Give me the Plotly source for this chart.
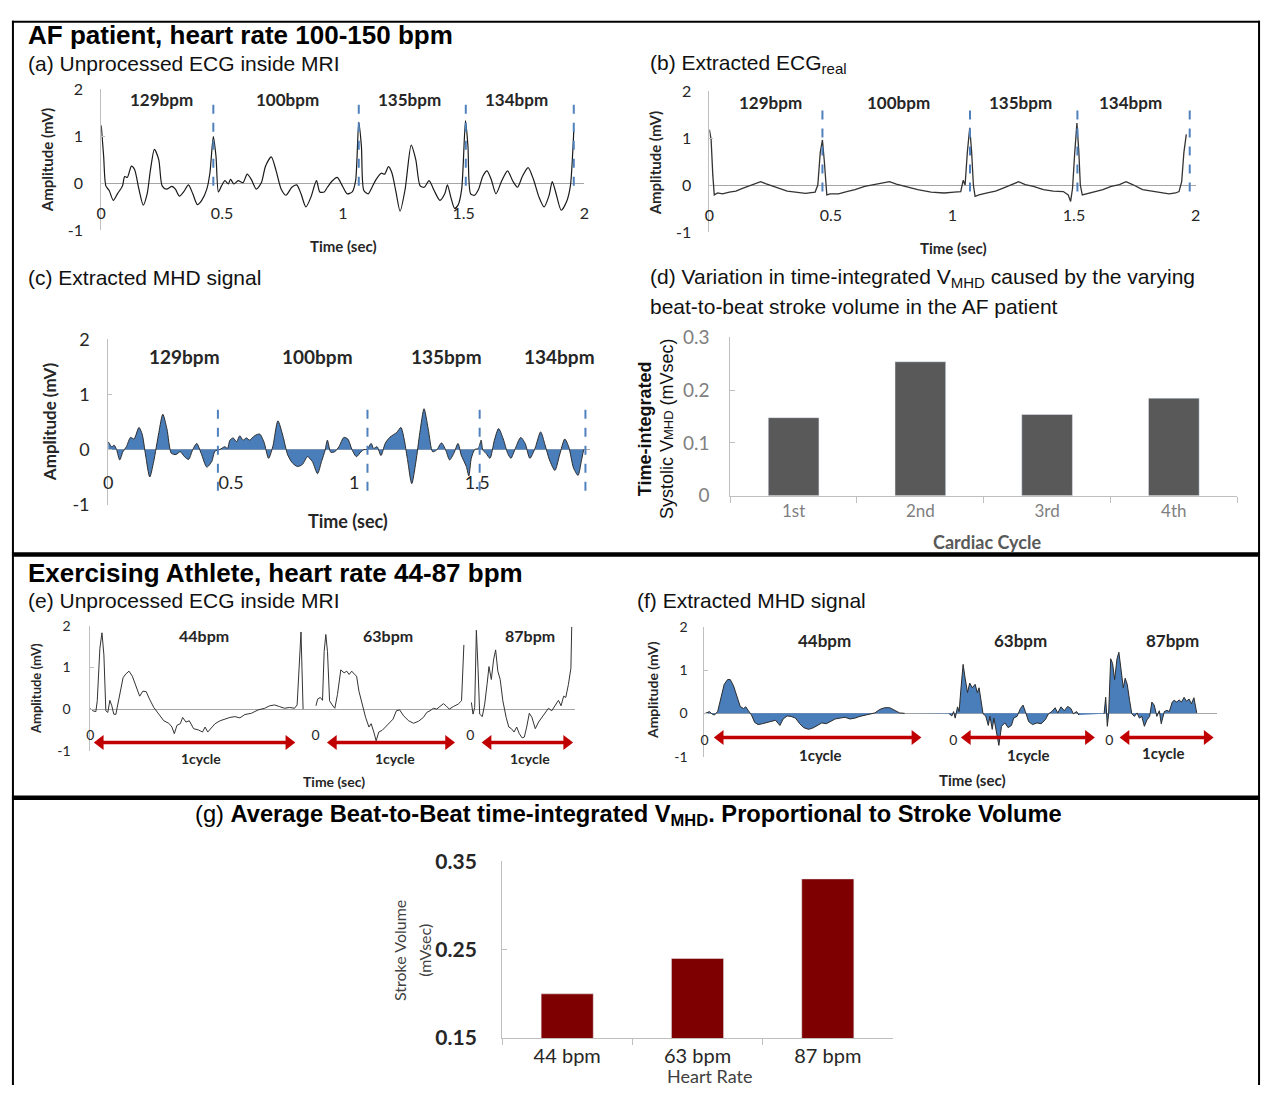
import plotly.graph_objects as go

# ---------------- DATA ----------------
# (a) unprocessed ECG inside MRI, AF patient: (time s, amplitude mV)
ecg_a = [(0,1.23),(0.01,0.57),(0.019,-0.06),(0.033,-0.16),(0.05,-0.37),(0.067,-0.23),(0.088,-0.06),(0.097,0.14),
         (0.108,0.12),(0.125,0.36),(0.138,0.29),(0.156,-0.13),(0.174,-0.47),(0.19,-0.23),(0.204,0.29),(0.22,0.72),
         (0.238,0.5),(0.252,-0.06),(0.27,-0.13),(0.293,-0.07),(0.307,-0.13),(0.324,-0.28),(0.341,-0.19),(0.361,-0.04),
         (0.379,-0.23),(0.398,-0.46),(0.416,-0.37),(0.437,-0.13),(0.45,0.22),(0.464,0.99),(0.475,0.57),(0.485,-0.19),
         (0.498,-0.06),(0.512,0.05),(0.526,-0.02),(0.535,0.08),(0.549,-0.02),(0.567,0.05),(0.587,0.01),(0.604,0.19),
         (0.621,0.08),(0.642,-0.13),(0.663,0.01),(0.68,0.36),(0.704,0.56),(0.724,0.26),(0.745,-0.13),(0.765,-0.26),
         (0.789,-0.09),(0.809,-0.04),(0.827,-0.23),(0.847,-0.51),(0.868,-0.3),(0.891,0.05),(0.905,-0.19),(0.923,-0.19),
         (0.936,-0.09),(0.957,0.05),(0.977,0.12),(0.998,-0.06),(1.018,-0.23),(1.039,-0.19),(1.053,0.05),(1.066,1.3),
         (1.077,0.78),(1.087,-0.16),(1.105,-0.23),(1.121,-0.09),(1.138,0.08),(1.159,0.21),(1.173,0.19),(1.189,0.35),
         (1.203,0.22),(1.22,-0.19),(1.237,-0.6),(1.258,-0.13),(1.283,0.81),(1.302,0.5),(1.32,-0.06),(1.337,-0.09),
         (1.357,0.05),(1.378,-0.16),(1.402,-0.37),(1.422,-0.23),(1.433,-0.04),(1.447,-0.3),(1.463,-0.54),(1.477,-0.47),
         (1.492,-0.13),(1.508,1.33),(1.518,0.78),(1.529,-0.23),(1.545,-0.26),(1.562,-0.13),(1.58,0.15),(1.597,0.26),
         (1.614,0.08),(1.634,-0.23),(1.658,0.05),(1.682,0.26),(1.703,0.05),(1.723,-0.09),(1.744,0.15),(1.767,0.33),
         (1.789,0.08),(1.812,-0.3),(1.833,-0.51),(1.854,-0.26),(1.867,0.03),(1.881,-0.19),(1.904,-0.58),(1.926,-0.4),
         (1.942,-0.06),(1.953,0.78),(1.956,1.12)]

# (b) extracted ECG_real
ecg_b = [(0,1.18),(0.007,0.97),(0.014,0.21),(0.02,-0.21),(0.034,-0.17),(0.054,-0.19),(0.082,-0.15),(0.109,-0.13),
         (0.136,-0.07),(0.163,-0.02),(0.19,0.02),(0.211,0.07),(0.231,0.03),(0.259,-0.02),(0.286,-0.07),(0.32,-0.13),
         (0.354,-0.15),(0.395,-0.18),(0.435,-0.15),(0.446,0),(0.456,0.69),(0.465,0.96),(0.473,0.49),(0.479,0),
         (0.483,-0.21),(0.497,-0.19),(0.531,-0.19),(0.565,-0.14),(0.599,-0.1),(0.639,-0.03),(0.68,0.01),(0.721,0.06),
         (0.741,0.07),(0.769,0.02),(0.803,-0.03),(0.857,-0.1),(0.912,-0.15),(0.966,-0.17),(1.007,-0.15),(1.034,-0.14),
         (1.044,0.1),(1.052,0),(1.061,0.69),(1.071,1.22),(1.079,0.69),(1.086,0),(1.093,-0.24),(1.109,-0.21),
         (1.143,-0.17),(1.177,-0.13),(1.211,-0.06),(1.245,0.01),(1.272,0.07),(1.299,0.01),(1.333,-0.03),(1.374,-0.1),
         (1.415,-0.13),(1.456,-0.14),(1.476,-0.21),(1.486,-0.35),(1.494,-0.07),(1.503,0.69),(1.512,1.32),(1.52,0.69),
         (1.526,0),(1.534,-0.21),(1.551,-0.19),(1.585,-0.15),(1.619,-0.1),(1.653,-0.03),(1.687,0.01),(1.714,0.07),
         (1.741,0.01),(1.782,-0.1),(1.837,-0.15),(1.891,-0.19),(1.918,-0.17),(1.932,-0.14),(1.943,0.07),(1.952,0.69),
         (1.962,1.08)]

# (c) extracted MHD signal
mhd_c = [(0,0.14),(0.015,0.05),(0.024,0.08),(0.034,0),(0.047,-0.19),(0.06,-0.04),(0.074,0.05),(0.091,0.22),
         (0.105,0.19),(0.125,0.4),(0.138,0.28),(0.152,-0.1),(0.169,-0.5),(0.185,-0.22),(0.206,0.31),(0.222,0.64),
         (0.239,0.37),(0.257,-0.07),(0.276,-0.09),(0.293,-0.04),(0.31,-0.13),(0.327,-0.18),(0.343,-0.01),(0.36,0.11),
         (0.378,-0.07),(0.401,-0.32),(0.421,-0.22),(0.434,-0.03),(0.454,0),(0.474,0.05),(0.485,0.02),(0.495,0.17),
         (0.508,0.21),(0.522,0.14),(0.535,0.25),(0.548,0.17),(0.562,0.21),(0.575,0.17),(0.595,0.25),(0.616,0.28),
         (0.633,0.14),(0.652,-0.16),(0.669,0.05),(0.69,0.52),(0.71,0.25),(0.73,-0.1),(0.75,-0.25),(0.77,-0.31),
         (0.79,-0.27),(0.81,-0.13),(0.83,-0.22),(0.851,-0.44),(0.867,-0.22),(0.882,-0.01),(0.891,0.17),(0.905,-0.05),
         (0.921,-0.04),(0.938,0.05),(0.958,0.22),(0.974,0.19),(0.992,-0.01),(1.009,-0.13),(1.028,-0.04),(1.04,0),
         (1.052,0),(1.069,0.11),(1.079,0.02),(1.093,0.05),(1.109,-0.11),(1.126,0.11),(1.144,0.22),(1.16,0.27),
         (1.173,0.31),(1.19,0.4),(1.203,0.19),(1.216,-0.16),(1.234,-0.62),(1.251,-0.22),(1.267,0.31),(1.284,0.74),
         (1.301,0.37),(1.319,-0.04),(1.335,-0.01),(1.355,0.12),(1.372,-0.01),(1.388,-0.19),(1.405,-0.07),(1.422,0.11),
         (1.435,-0.1),(1.456,-0.31),(1.466,-0.48),(1.476,-0.16),(1.49,0),(1.505,0.02),(1.516,0.17),(1.523,-0.01),
         (1.536,-0.07),(1.552,-0.16),(1.57,0.17),(1.587,0.38),(1.606,0.19),(1.624,-0.07),(1.637,-0.16),(1.655,0.02),
         (1.677,0.22),(1.695,0.11),(1.714,-0.16),(1.735,0.02),(1.758,0.32),(1.776,0.08),(1.794,-0.19),(1.816,-0.38),
         (1.835,-0.1),(1.856,0.19),(1.872,0.05),(1.892,-0.34),(1.91,-0.47),(1.923,-0.22),(1.933,0)]

# beat boundaries (dashed markers), seconds
beats_a = [0.464, 1.066, 1.509, 1.956]
beats_b = [0.465, 1.072, 1.514, 1.976]
beats_c = [0.446, 1.054, 1.51, 1.94]
bpm_af = ["129bpm", "100bpm", "135bpm", "134bpm"]
amp_ticks = [-1, 0, 1, 2]
amp_labels = ["-1", "0", "1", "2"]

# (d) time-integrated systolic V_MHD per cardiac cycle
cycles_d = ["1st", "2nd", "3rd", "4th"]
vmhd_d = [0.148, 0.254, 0.154, 0.185]

# (e) unprocessed ECG of exercising athlete (three concatenated beats)
ecg_e = [(0,0.02),(0.017,-0.04),(0.04,-0.06),(0.05,0.2),(0.069,1.46),(0.084,1.83),(0.098,1.3),(0.112,-0.04),
         (0.126,-0.08),(0.141,0.21),(0.155,0.08),(0.169,-0.12),(0.184,-0.13),(0.203,0.2),(0.22,0.43),(0.236,0.75),
         (0.255,0.84),(0.279,0.91),(0.303,0.79),(0.332,0.55),(0.356,0.31),(0.379,0.43),(0.403,0.42),(0.427,0.24),
         (0.458,0.04),(0.494,-0.12),(0.53,-0.28),(0.566,-0.34),(0.589,-0.43),(0.606,-0.59),(0.625,-0.39),(0.649,-0.35),
         (0.666,-0.2),(0.69,-0.31),(0.714,-0.28),(0.745,-0.47),(0.78,-0.5),(0.809,-0.55),(0.828,-0.43),(0.847,-0.55),
         (0.871,-0.47),(0.9,-0.35),(0.936,-0.28),(0.971,-0.24),(1.007,-0.2),(1.043,-0.18),(1.079,-0.21),(1.115,-0.13),
         (1.162,-0.1),(1.21,-0.02),(1.258,0.02),(1.294,0.08),(1.33,0.1),(1.365,0.06),(1.401,0.02),(1.437,0.04),
         (1.473,0.02),(1.492,0.1),(1.508,0.98),(1.52,1.85),(1.527,0.98),(1.535,0),
         (None,None),
         (1.628,0.08),(1.64,0.24),(1.659,0.28),(1.675,0.21),(1.687,1.38),(1.699,1.79),(1.711,1.38),(1.726,0.2),
         (1.745,0.1),(1.764,0.02),(1.783,0.35),(1.807,0.94),(1.831,0.87),(1.85,0.91),(1.867,0.83),(1.886,0.91),
         (1.907,0.83),(1.921,0.79),(1.938,0.43),(1.962,0.12),(1.986,-0.2),(2.01,-0.43),(2.026,-0.35),(2.045,-0.55),
         (2.062,-0.76),(2.081,-0.55),(2.105,-0.51),(2.129,-0.43),(2.153,-0.35),(2.184,-0.24),(2.208,-0.04),(2.232,-0.02),
         (2.26,-0.16),(2.296,-0.28),(2.332,-0.34),(2.368,-0.29),(2.403,-0.2),(2.427,-0.08),(2.451,-0.04),(2.475,0.02),
         (2.499,0),(2.523,0.06),(2.547,0.13),(2.566,0.08),(2.59,0),(2.618,0.06),(2.654,0.12),(2.678,0.2),(2.695,1.54),
         (None,None),
         (2.749,0.16),(2.761,-0.12),(2.773,0.04),(2.785,1.89),(2.797,0.98),(2.809,-0.12),(2.828,-0.18),(2.845,0.12),
         (2.862,0.59),(2.876,1.02),(2.893,0.71),(2.909,1.18),(2.924,1.42),(2.94,0.91),(2.957,0.71),(2.976,0.2),
         (3.0,-0.2),(3.019,-0.43),(3.038,-0.47),(3.057,-0.55),(3.076,-0.43),(3.095,-0.59),(3.115,-0.69),(3.131,-0.67),
         (3.148,-0.43),(3.167,-0.1),(3.186,-0.2),(3.21,-0.47),(3.234,-0.31),(3.258,-0.2),(3.282,-0.1),(3.305,0.02),
         (3.329,-0.04),(3.353,0.1),(3.377,0.21),(3.396,0.08),(3.415,0.31),(3.43,0.28),(3.449,0.59),(3.467,0.98),
         (3.473,1.97)]

# (f) extracted MHD signal of exercising athlete
mhd_f = [(0,-0.01),(0.018,0.01),(0.034,0.04),(0.05,-0.01),(0.068,-0.04),(0.09,0.04),(0.113,0.37),(0.135,0.67),
         (0.158,0.78),(0.176,0.78),(0.199,0.63),(0.221,0.37),(0.244,0.16),(0.266,0.11),(0.282,0.15),(0.3,0.06),
         (0.321,-0.04),(0.343,-0.21),(0.366,-0.26),(0.395,-0.24),(0.424,-0.21),(0.456,-0.19),(0.485,-0.16),(0.515,-0.28),
         (0.537,-0.13),(0.564,-0.06),(0.591,-0.07),(0.621,-0.11),(0.65,-0.24),(0.677,-0.33),(0.711,-0.37),(0.745,-0.33),
         (0.772,-0.28),(0.801,-0.22),(0.831,-0.24),(0.858,-0.19),(0.892,-0.13),(0.926,-0.11),(0.959,-0.09),(0.993,-0.13),
         (1.027,-0.11),(1.061,-0.07),(1.095,-0.04),(1.129,-0.01),(1.163,0.01),(1.196,0.09),(1.23,0.13),(1.264,0.13),
         (1.298,0.07),(1.332,0.01),(1.366,0),
         (None,None),
         (1.67,-0.01),(1.688,-0.06),(1.7,0.04),(1.711,-0.11),(1.727,0.15),(1.738,0.04),(1.749,0.52),(1.765,1.13),
         (1.779,0.81),(1.795,0.48),(1.81,0.7),(1.828,0.59),(1.847,0.67),(1.862,0.48),(1.874,0.59),(1.887,0.3),
         (1.901,-0.01),(1.919,-0.06),(1.937,-0.28),(1.948,-0.07),(1.964,-0.37),(1.975,-0.11),(1.991,-0.44),(2.009,-0.74),
         (2.027,-0.3),(2.05,-0.22),(2.072,-0.33),(2.095,-0.28),(2.11,-0.11),(2.133,-0.07),(2.156,0.11),(2.174,0.19),
         (2.19,0.04),(2.212,-0.19),(2.239,-0.26),(2.269,-0.22),(2.298,-0.24),(2.325,-0.15),(2.348,-0.01),(2.37,0.04),
         (2.393,0.13),(2.411,0.01),(2.433,0.15),(2.456,0.06),(2.478,0.16),(2.501,0.11),(2.517,-0.01),(2.54,0.04),
         (2.555,-0.04),
         (None,None),
         (2.727,-0.01),(2.738,0.37),(2.749,-0.3),(2.758,-0.01),(2.772,1.26),(2.785,1.15),(2.799,0.78),(2.815,1.26),
         (2.828,1.41),(2.844,0.96),(2.858,0.59),(2.871,0.81),(2.885,0.67),(2.901,0.3),(2.916,-0.01),(2.934,-0.07),
         (2.952,0.01),(2.968,-0.11),(2.984,-0.07),(3.002,-0.3),(3.02,-0.15),(3.038,-0.07),(3.053,0.26),(3.069,0.19),
         (3.087,-0.07),(3.104,0.06),(3.117,-0.24),(3.138,0.04),(3.156,0.07),(3.172,0.04),(3.192,0.26),(3.205,0.3),
         (3.223,0.26),(3.239,0.31),(3.255,0.26),(3.273,0.37),(3.289,0.28),(3.307,0.33),(3.323,0.22),(3.34,0.36),
         (3.359,0.01)]

bpm_ath = ["44bpm", "63bpm", "87bpm"]
beat_starts_e = [0, 1.625, 2.742]
beat_starts_f = [0, 1.699, 2.762]
cycle_span_e = [(0.072, 1.432), (1.754, 2.584), (2.87, 3.436)]
cycle_span_f = [(0.108, 1.436), (1.794, 2.62), (2.877, 3.43)]

# (g) average beat-to-beat time-integrated V_MHD
rates_g = ["44 bpm", "63 bpm", "87 bpm"]
vmhd_g = [0.20, 0.24, 0.33]

# ---------------- FIGURE ----------------
W, H = 1269, 1096
def X(p): return p / W
def Y(p): return 1 - p / H

CAL = "Lato, 'Open Sans', sans-serif"
ARI = "'Liberation Sans', Arial, sans-serif"
INK = "#262626"
AXC = "#bfbfbf"
RED = "#c00000"

def sub(s, px):
    return f"<span style='font-size:{px}px;baseline-shift:-4px'>{s}</span>"

fig = go.Figure()

def xy(pts):
    return [p[0] for p in pts], [p[1] for p in pts]

def dashes(xs, lo, hi):
    dx, dy = [], []
    for v in xs:
        dx += [v, v, None]
        dy += [lo, hi, None]
    return dx, dy

# (a)
t, v = xy(ecg_a)
fig.add_trace(go.Scatter(x=t, y=v, mode="lines", line=dict(color="#1a1a1a", width=1.2, shape="spline", smoothing=0.7), xaxis="x", yaxis="y"))
dx_, dy_ = dashes(beats_a, -0.06, 1.68)
fig.add_trace(go.Scatter(x=dx_, y=dy_, mode="lines", line=dict(color="#4f81bd", width=2, dash="dash"), xaxis="x", yaxis="y"))
# (b)
t, v = xy(ecg_b)
fig.add_trace(go.Scatter(x=t, y=v, mode="lines", line=dict(color="#333333", width=1.3), xaxis="x2", yaxis="y2"))
dx_, dy_ = dashes(beats_b, -0.14, 1.6)
fig.add_trace(go.Scatter(x=dx_, y=dy_, mode="lines", line=dict(color="#4f81bd", width=2, dash="dash"), xaxis="x2", yaxis="y2"))
# (c)
t, v = xy(mhd_c)
fig.add_trace(go.Scatter(x=t, y=v, mode="lines", fill="tozeroy", fillcolor="#4a7ebb",
                         line=dict(color="#2b2b2b", width=1, shape="spline", smoothing=0.7), xaxis="x3", yaxis="y3"))
dx_, dy_ = dashes(beats_c, -0.75, 0.87)
fig.add_trace(go.Scatter(x=dx_, y=dy_, mode="lines", line=dict(color="#4f81bd", width=2, dash="dash"), xaxis="x3", yaxis="y3"))
# (d)
fig.add_trace(go.Bar(x=cycles_d, y=vmhd_d, marker_color="#595959", width=0.4, xaxis="x4", yaxis="y4"))
# (e)
t, v = xy(ecg_e)
fig.add_trace(go.Scatter(x=t, y=v, mode="lines", line=dict(color="#333333", width=1), connectgaps=False, xaxis="x5", yaxis="y5"))
# (f)
t, v = xy(mhd_f)
fig.add_trace(go.Scatter(x=t, y=v, mode="lines", fill="tozeroy", fillcolor="#4a7ebb", connectgaps=False,
                         line=dict(color="#2b2b2b", width=1), xaxis="x6", yaxis="y6"))
# (g)
fig.add_trace(go.Bar(x=rates_g, y=vmhd_g, marker_color="#7f0000", width=0.4, xaxis="x7", yaxis="y7"))

# one-cycle double arrows (lines with triangle end markers)
def cycle_arrows(spans, yv, xa, ya):
    ax_, ay_, sym = [], [], []
    for a0, a1 in spans:
        ax_ += [a0, a1, None]
        ay_ += [yv, yv, None]
        sym += ["triangle-left", "triangle-right", "circle"]
    fig.add_trace(go.Scatter(x=ax_, y=ay_, mode="lines+markers", line=dict(color=RED, width=3.5),
                             marker=dict(symbol=sym, size=13, color=RED, line=dict(width=0)),
                             xaxis=xa, yaxis=ya))
cycle_arrows(cycle_span_e, -0.8, "x5", "y5")
cycle_arrows(cycle_span_f, -0.56, "x6", "y6")

layout = {}

def ecg_axes(n, x0, x1, ytop, ybot, xr, yr, xpos, tickvals, ticktext, xfs, yfs, ystand):
    xs = "xaxis" if n == 1 else f"xaxis{n}"
    ys = "yaxis" if n == 1 else f"yaxis{n}"
    xa = "x" if n == 1 else f"x{n}"
    layout[xs] = dict(domain=[X(x0), X(x1)], range=xr, anchor="free", position=Y(xpos), showline=False,
                      showgrid=False, zeroline=False, ticks="", tickvals=tickvals, ticktext=ticktext,
                      tickfont=dict(family=CAL, size=xfs, color=INK))
    layout[ys] = dict(domain=[Y(ybot), Y(ytop)], range=yr, anchor=xa, showline=True, linecolor=AXC, linewidth=1,
                      ticks="inside", ticklen=4, tickcolor=AXC, tickvals=amp_ticks, ticktext=amp_labels,
                      showgrid=False, zeroline=True, zerolinecolor="#a6a6a6", zerolinewidth=1,
                      tickfont=dict(family=CAL, size=yfs, color=INK), ticklabelstandoff=ystand)

ecg_axes(1, 97, 584, 77, 221, [0, 2], [-1, 2], 192, [0, 0.5, 1, 1.5, 2], ["0", "0.5", "1", "1.5", "2"], 16, 16, 14)
ecg_axes(2, 710, 1200, 79, 223, [0, 2], [-1, 2], 194, [0, 0.5, 1, 1.5, 2], ["0", "0.5", "1", "1.5", "2"], 16, 16, 14)
ecg_axes(3, 104, 590, 333, 502, [0, 1.96], [-1, 2], 467, [0, 0.5, 1, 1.5], ["0", "0.5", "1", "1.5"], 18, 18, 14)
ecg_axes(5, 86, 575, 626, 754, [0, 3.5], [-1, 2], 728, beat_starts_e, ["0"] * 3, 14, 14, 16)
ecg_axes(6, 705, 1222, 627, 760, [0, 3.5], [-1, 2], 733, beat_starts_f, ["0"] * 3, 14, 14, 13)

def bar_axes(n, x0, x1, ytop, ybot, yr, tickvals, ticktext, xfont, yfont, ystand):
    layout[f"xaxis{n}"] = dict(domain=[X(x0), X(x1)], anchor=f"y{n}", type="category", showline=True, linecolor=AXC,
                               ticks="outside", tickson="boundaries", ticklen=6, tickcolor=AXC, showgrid=False,
                               tickfont=xfont)
    layout[f"yaxis{n}"] = dict(domain=[Y(ybot), Y(ytop)], anchor=f"x{n}", range=yr, showline=True, linecolor=AXC,
                               ticks="inside", ticklen=5, tickcolor=AXC, showgrid=False, zeroline=False,
                               tickvals=tickvals, ticktext=ticktext, tickfont=yfont, ticklabelstandoff=ystand)

bar_axes(4, 731, 1242, 331, 493, [0, 0.3], [0, 0.1, 0.2, 0.3], ["0", "0.1", "0.2", "0.3"],
         dict(family=CAL, size=17, color="#7f7f7f"), dict(family=CAL, size=19, color="#808080"), 16)
bar_axes(7, 501, 895, 867, 1048, [0.15, 0.35], [0.15, 0.25, 0.35], ["<b>0.15</b>", "<b>0.25</b>", "<b>0.35</b>"],
         dict(family=CAL, size=20, color=INK), dict(family=CAL, size=21, color=INK), 20)

ann = []
def txt(s, x, y, size, family=CAL, bold=False, color=INK, xanchor="center", angle=0):
    ann.append(dict(text=f"<b>{s}</b>" if bold else s, x=X(x), y=Y(y), xref="paper", yref="paper",
                    showarrow=False, font=dict(family=family, size=size, color=color),
                    xanchor=xanchor, yanchor="middle", textangle=angle))

# section / panel titles
txt("AF patient, heart rate 100-150 bpm", 21, 22, 26, ARI, True, "#000", "left")
txt("(a) Unprocessed ECG inside MRI", 21, 51, 21, ARI, False, "#111", "left")
txt("(b) Extracted ECG" + sub("real", 15), 648, 51, 21, ARI, False, "#111", "left")
txt("(c) Extracted MHD signal", 21, 270, 21, ARI, False, "#111", "left")
txt("(d) Variation in time-integrated V" + sub("MHD", 15) + " caused by the varying", 648, 270, 21, ARI, False, "#111", "left")
txt("beat-to-beat stroke volume in the AF patient", 648, 299, 21, ARI, False, "#111", "left")
txt("Exercising Athlete, heart rate 44-87 bpm", 21, 572, 26, ARI, True, "#000", "left")
txt("(e) Unprocessed ECG inside MRI", 21, 600, 21, ARI, False, "#111", "left")
txt("(f) Extracted MHD signal", 635, 600, 21, ARI, False, "#111", "left")
txt("(g) <b>Average Beat-to-Beat time-integrated V" + sub("MHD", 16.5) + ". Proportional to Stroke Volume</b>",
    628, 820, 23.7, ARI, False, "#000")

# bpm labels
for s, xp in zip(bpm_af, [158, 285, 408, 516]):
    txt(s, xp, 88, 17, bold=True)
for s, xp in zip(bpm_af, [772, 901, 1024, 1134]):
    txt(s, xp, 91, 17, bold=True)
for s, xp in zip(bpm_af, [181, 315, 445, 559]):
    txt(s, xp, 350, 19, bold=True)
for s, xp in zip(bpm_ath, [201, 386, 529]):
    txt(s, xp, 636, 16, bold=True)
for s, xp in zip(bpm_ath, [826, 1024, 1177]):
    txt(s, xp, 641, 17, bold=True)
for xp in [198, 393, 529]:
    txt("1cycle", xp, 762, 14, bold=True)
for xp, yp in zip([822, 1032, 1168], [758, 758, 756]):
    txt("1cycle", xp, yp, 15, bold=True)

# axis titles
txt("Amplitude (mV)", 42, 149, 15, bold=True, angle=-90)
txt("Time (sec)", 341, 237, 15, bold=True)
txt("Amplitude (mV)", 655, 152, 15, bold=True, angle=-90)
txt("Time (sec)", 956, 239, 15, bold=True)
txt("Amplitude (mV)", 45, 417, 17, bold=True, angle=-90)
txt("Time (sec)", 346, 519, 18, bold=True)
txt("Time-integrated", 645, 424, 18, ARI, True, "#111", angle=-90)
txt("Systolic V<span style='font-size:13px'>MHD</span> (mVsec)", 668, 424, 18, ARI, False, "#111", angle=-90)
txt("Cardiac Cycle", 990, 540, 18, bold=True, color="#595959")
txt("Amplitude (mV)", 32, 690, 13, bold=True, angle=-90)
txt("Time (sec)", 332, 785, 14, bold=True)
txt("Amplitude (mV)", 652, 692, 14, bold=True, angle=-90)
txt("Time (sec)", 975, 784, 15, bold=True)
txt("Stroke Volume", 397, 958, 16, color="#404040", angle=-90)
txt("(mVsec)", 422, 958, 16, color="#404040", angle=-90)
txt("Heart Rate", 710, 1087, 18, color="#404040")

# frame lines
shapes = []
def hline(y, x0, x1, w):
    shapes.append(dict(type="line", xref="paper", yref="paper", x0=X(x0), x1=X(x1), y0=Y(y), y1=Y(y),
                       line=dict(color="#000", width=w)))
def vline(x, y0, y1, w):
    shapes.append(dict(type="line", xref="paper", yref="paper", x0=X(x), x1=X(x), y0=Y(y0), y1=Y(y1),
                       line=dict(color="#000", width=w)))
hline(8, 7, 1265, 2)
hline(553, 7, 1265, 4.5)
hline(802, 7, 1265, 4.5)
vline(8, 7, 1096, 2)
vline(1264, 7, 1096, 2)

fig.update_layout(width=W, height=H, margin=dict(l=0, r=0, t=0, b=0), autosize=False,
                  paper_bgcolor="white", plot_bgcolor="rgba(0,0,0,0)", showlegend=False,
                  annotations=ann, shapes=shapes, **layout)

fig.write_html("out.html", config={"displayModeBar": False},
               post_script="document.body.style.margin='0';document.body.style.overflow='hidden';")
